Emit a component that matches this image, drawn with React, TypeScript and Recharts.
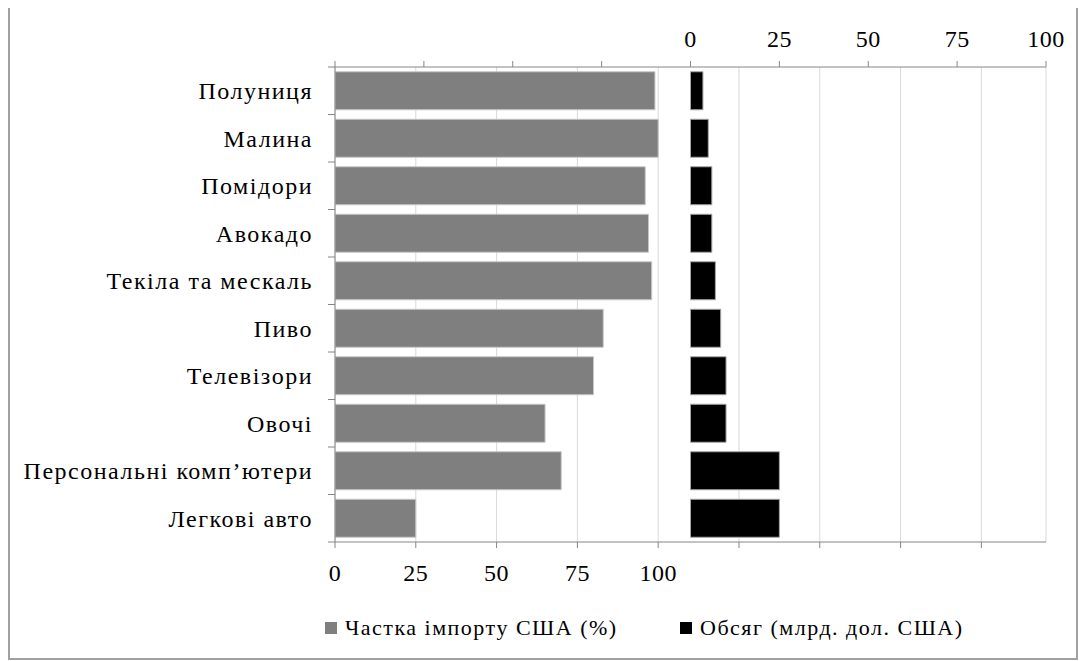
import React from 'react';
import { BarChart, Bar, XAxis, YAxis, CartesianGrid, Legend } from 'recharts';

// категорії товарів (зверху вниз)
const categories = [
  'Полуниця',
  'Малина',
  'Помідори',
  'Авокадо',
  'Текіла та мескаль',
  'Пиво',
  'Телевізори',
  'Овочі',
  'Персональні комп’ютери',
  'Легкові авто',
];
// частка імпорту США, %
const importShare = [99, 100, 96, 97, 98, 83, 80, 65, 70, 25];
// обсяг, млрд. дол. США
const importVolume = [3.5, 5, 6, 6, 7, 8.5, 10, 10, 25, 25];

const shareTicks = [0, 25, 50, 75, 100, 125, 150, 175, 200];
const volumeTicks = [-100, -75, -50, -25, 0, 25, 50, 75, 100];

const seriesNames = ['Частка імпорту США (%)', 'Обсяг (млрд. дол. США)'];
const seriesColors = ['#7f7f7f', '#000000'];

const data = categories.map((name, i) => ({
  name,
  share: importShare[i],
  volume: importVolume[i],
}));

const FONT = "'Liberation Serif', 'DejaVu Serif', 'Times New Roman', Times, serif";
const FONT_SIZE = 24;
const AXIS = '#868686';
const CAT_TICK_MARGIN = 16;
const HALF_BAND = 475 / categories.length / 2;

function CategoryTick(props: any) {
  const { x, y, payload, index } = props;
  const axisX = x + 6 + CAT_TICK_MARGIN;
  return (
    <g>
      <text
        x={x}
        y={y}
        dy="0.35em"
        textAnchor="end"
        style={{ fontFamily: FONT, fontSize: FONT_SIZE, letterSpacing: 1.5 }}
        fill="#000"
      >
        {payload.value}
      </text>
      <line x1={axisX - 7} x2={axisX} y1={y - HALF_BAND} y2={y - HALF_BAND} stroke={AXIS} />
      {index === categories.length - 1 && (
        <line x1={axisX - 7} x2={axisX} y1={y + HALF_BAND} y2={y + HALF_BAND} stroke={AXIS} />
      )}
    </g>
  );
}

const renderLegend = () => (
  <div style={{ display: 'flex', fontFamily: FONT, fontSize: 22, letterSpacing: 1.5, color: '#000' }}>
    {seriesNames.map((n, i) => (
      <div key={n} style={{ display: 'flex', alignItems: 'center', width: i === 0 ? 355 : 'auto' }}>
        <span style={{ display: 'inline-block', width: 12, height: 12, background: seriesColors[i], marginRight: 8 }} />
        <span style={{ whiteSpace: 'pre' }}>{n}</span>
      </div>
    ))}
  </div>
);

const axisTick = { fill: '#000', style: { fontFamily: FONT, fontSize: FONT_SIZE, letterSpacing: 0.5 } };

export default function App() {
  return (
    <div style={{ marginTop: -2, width: 1066, height: 650, border: '2px solid #a0a0a0', background: '#fff' }}>
      <BarChart
        width={1066}
        height={650}
        data={data}
        layout="vertical"
        barCategoryGap="10%"
        margin={{ top: 29, right: 30, bottom: 76, left: 0 }}
        style={{ fontFamily: FONT }}
      >
        <CartesianGrid xAxisId="pct" yAxisId="cat" horizontal={false} stroke="#d9d9d9" />
        <XAxis
          xAxisId="pct"
          type="number"
          orientation="bottom"
          domain={[0, 220]}
          ticks={shareTicks}
          allowDataOverflow
          height={40}
          stroke={AXIS}
          tickSize={6}
          tickMargin={16}
          tickFormatter={(v: number) => (v <= 100 ? String(v) : '')}
          tick={axisTick}
        />
        <XAxis
          xAxisId="vol"
          type="number"
          orientation="top"
          domain={[-100, 100]}
          ticks={volumeTicks}
          allowDataOverflow
          height={30}
          stroke={AXIS}
          tickSize={6}
          tickMargin={14}
          tickFormatter={(v: number) => (v >= 0 ? String(v) : '')}
          tick={axisTick}
        />
        <YAxis
          yAxisId="cat"
          type="category"
          dataKey="name"
          width={325}
          stroke={AXIS}
          tickLine={false}
          tickSize={6}
          tickMargin={CAT_TICK_MARGIN}
          interval={0}
          tick={<CategoryTick />}
        />
        <YAxis yAxisId="cat2" type="category" dataKey="name" hide />
        <Legend
          layout="horizontal"
          verticalAlign="middle"
          align="center"
          content={renderLegend}
          wrapperStyle={{ top: 607, left: 315, width: 'auto' }}
        />
        <Bar
          xAxisId="pct"
          yAxisId="cat"
          dataKey="share"
          name={seriesNames[0]}
          fill={seriesColors[0]}
          stroke="#c8c8c8"
          isAnimationActive={false}
        />
        <Bar
          xAxisId="vol"
          yAxisId="cat2"
          dataKey="volume"
          name={seriesNames[1]}
          fill={seriesColors[1]}
          stroke="#a6a6a6"
          isAnimationActive={false}
        />
      </BarChart>
    </div>
  );
}
